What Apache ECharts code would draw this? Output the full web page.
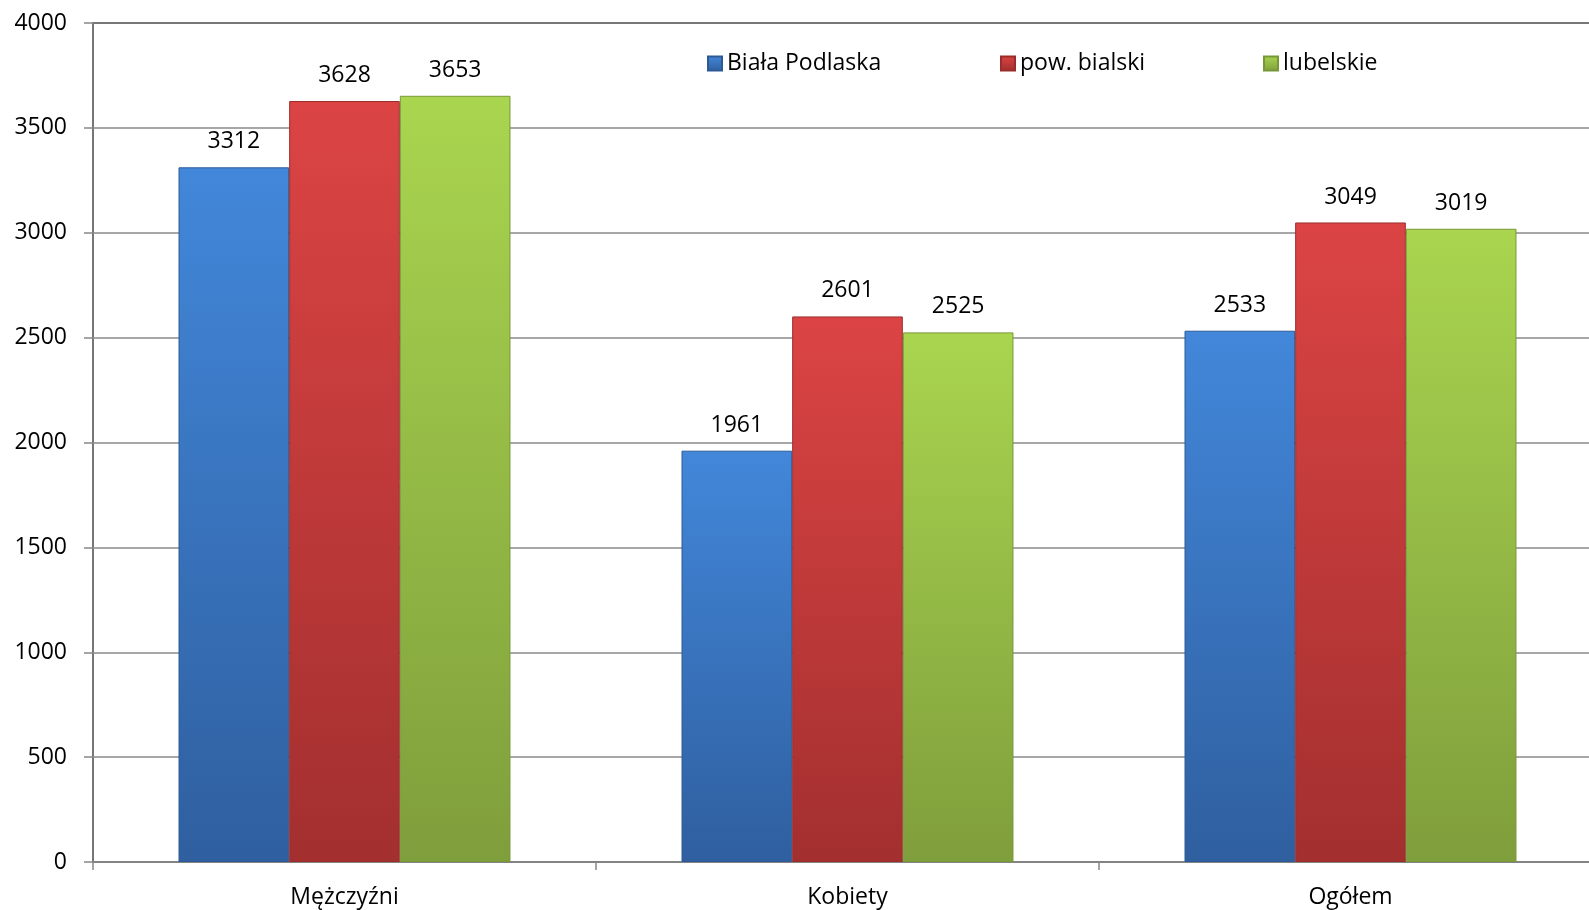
<!DOCTYPE html>
<html><head><meta charset="utf-8">
<script src="https://cdn.jsdelivr.net/npm/echarts@6/dist/echarts.min.js"></script>
<style>html,body{margin:0;padding:0;background:#fff}#c{width:1589px;height:910px}</style>
</head><body><div id="c"></div>
<script>
const categories = ['Mężczyźni', 'Kobiety', 'Ogółem'];
const seriesNames = ['Biała Podlaska', 'pow. bialski', 'lubelskie'];
const bialaPodlaska = [3312, 1961, 2533];
const powBialski = [3628, 2601, 3049];
const lubelskie = [3653, 2525, 3019];
const yTicks = {min: 0, max: 4000, interval: 500};

const FONT = '"Open Sans", "Noto Sans", sans-serif';
function grad(top, bottom){
  return new echarts.graphic.LinearGradient(0,0,0,1,[{offset:0,color:top},{offset:1,color:bottom}]);
}
const styles = [
  {c: grad('#4287da', '#2f5f9f'), b: '#2d5a96', icon: '#3a75c4'},
  {c: grad('#dc4444', '#a32f2f'), b: '#9b2c2c', icon: '#c83a3a'},
  {c: grad('#a9d54f', '#7f9e3c'), b: '#789838', icon: '#9cc446'}
];
const data = [bialaPodlaska, powBialski, lubelskie];
const legendLeft = [702, 995, 1258];

const chart = echarts.init(document.getElementById('c'));
chart.setOption({
  animation: false,
  grid: {left: 93, width: 1509, top: 23, height: 839, outerBoundsMode: 'none', containLabel: false,
         show: true, borderColor: '#000', borderWidth: 1.5},
  legend: seriesNames.map((n,i)=>({
    data: [n], left: legendLeft[i], top: 47, itemWidth: 14, itemHeight: 14, itemGap: 6,
    icon: 'rect', textStyle: {fontFamily: FONT, fontSize: 23, color: '#000'}
  })),
  xAxis: {
    type: 'category', data: categories,
    axisLine: {lineStyle: {color: '#888', width: 1.5}},
    axisTick: {show: true, length: 8, lineStyle: {color: '#888', width: 1.5}},
    axisLabel: {fontFamily: FONT, fontSize: 23, color: '#000', margin: 24}
  },
  yAxis: {
    type: 'value', min: yTicks.min, max: yTicks.max, interval: yTicks.interval,
    axisLine: {show: true, lineStyle: {color: '#888', width: 1.5}},
    axisTick: {show: true, length: 9, lineStyle: {color: '#888', width: 1.5}},
    splitLine: {lineStyle: {color: '#8a8a8a', width: 1.5}},
    axisLabel: {fontFamily: FONT, fontSize: 23, color: '#000', margin: 26, formatter: v => String(v)}
  },
  series: seriesNames.map((n,i)=>({
    name: n, type: 'bar', data: data[i],
    barGap: '0%', barCategoryGap: '34%',
    itemStyle: {color: styles[i].c, borderColor: styles[i].b, borderWidth: 1},
    label: {show: true, position: 'top', distance: 14, fontFamily: FONT, fontSize: 23, color: '#000'}
  })),
  color: styles.map(s=>s.icon)
});
</script></body></html>
